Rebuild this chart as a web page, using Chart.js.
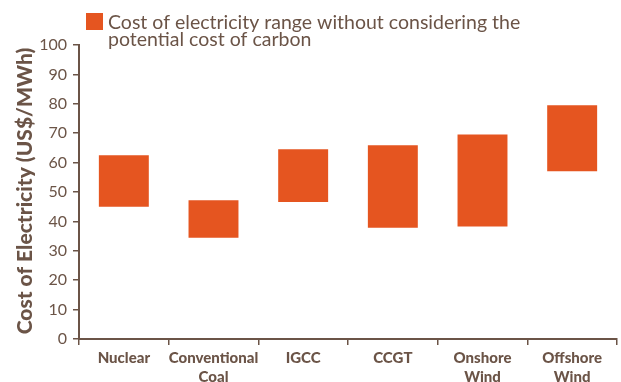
<!DOCTYPE html>
<html>
<head>
<meta charset="utf-8">
<script src="https://cdn.jsdelivr.net/npm/chart.js@4.4.1/dist/chart.umd.min.js"></script>
<style>
html,body{margin:0;padding:0;background:#fff;}
#wrap{width:621px;height:382px;position:relative;}
</style>
</head>
<body>
<div id="wrap"><canvas id="c" width="621" height="382"></canvas></div>
<script>
const categories = [["Nuclear"], ["Conventional", "Coal"], ["IGCC"], ["CCGT"], ["Onshore", "Wind"], ["Offshore", "Wind"]];
const lowValues  = [45.0, 34.4, 46.6, 37.8, 38.3, 57.1];
const highValues = [62.5, 47.2, 64.5, 65.9, 69.6, 79.5];
const seriesLabel = ["Cost of electricity range without considering the", "potential cost of carbon"];
const yTitle = "Cost of Electricity (US$/MWh)";

const BROWN = "#6b5447";
const ORANGE = "#e55520";

const decorPlugin = {
  id: 'decor',
  afterDraw(chart) {
    const ctx = chart.ctx;
    ctx.save();
    ctx.fillStyle = ORANGE;
    ctx.fillRect(86, 13, 17, 17);
    ctx.fillStyle = BROWN;
    ctx.font = '19.5px Lato';
    ctx.textBaseline = 'alphabetic';
    ctx.textAlign = 'left';
    ctx.fillText(seriesLabel[0], 108, 28.5);
    ctx.fillText(seriesLabel[1], 108, 46);
    // y axis title
    ctx.translate(25, 191);
    ctx.rotate(-Math.PI / 2);
    ctx.font = '900 21px Lato';
    ctx.textAlign = 'center';
    ctx.textBaseline = 'middle';
    ctx.fillText(yTitle, 0, 0);
    ctx.restore();
  }
};

new Chart(document.getElementById('c'), {
  type: 'bar',
  data: {
    labels: categories,
    datasets: [{
      label: seriesLabel.join(' '),
      data: lowValues.map((v, i) => [v, highValues[i]]),
      backgroundColor: ORANGE,
      borderWidth: 0,
      categoryPercentage: 1.0,
      barPercentage: 0.557
    }]
  },
  options: {
    responsive: false,
    animation: false,
    devicePixelRatio: 1,
    layout: { padding: { top: 45, left: 0, right: 4, bottom: 0 } },
    plugins: { legend: { display: false }, tooltip: { enabled: false } },
    scales: {
      x: {
        grid: { display: true, drawOnChartArea: false, drawTicks: true, tickLength: 6, color: BROWN, lineWidth: 1.5, offset: true },
        border: { display: true, color: BROWN, width: 2 },
        ticks: { color: BROWN, font: { family: 'Lato', size: 15, weight: '900', lineHeight: 1.25 }, padding: 4, maxRotation: 0, autoSkip: false },
        afterFit(scale) { scale.height = 43; }
      },
      y: {
        min: 0, max: 100,
        grid: { display: true, drawOnChartArea: false, drawTicks: true, tickLength: 6, color: BROWN, lineWidth: 1.5 },
        border: { display: true, color: BROWN, width: 2 },
        ticks: { stepSize: 10, color: BROWN, font: { family: 'Lato', size: 16 }, padding: 6 },
        afterFit(scale) { scale.width = 79; }
      }
    }
  },
  plugins: [decorPlugin]
});
</script>
</body>
</html>
